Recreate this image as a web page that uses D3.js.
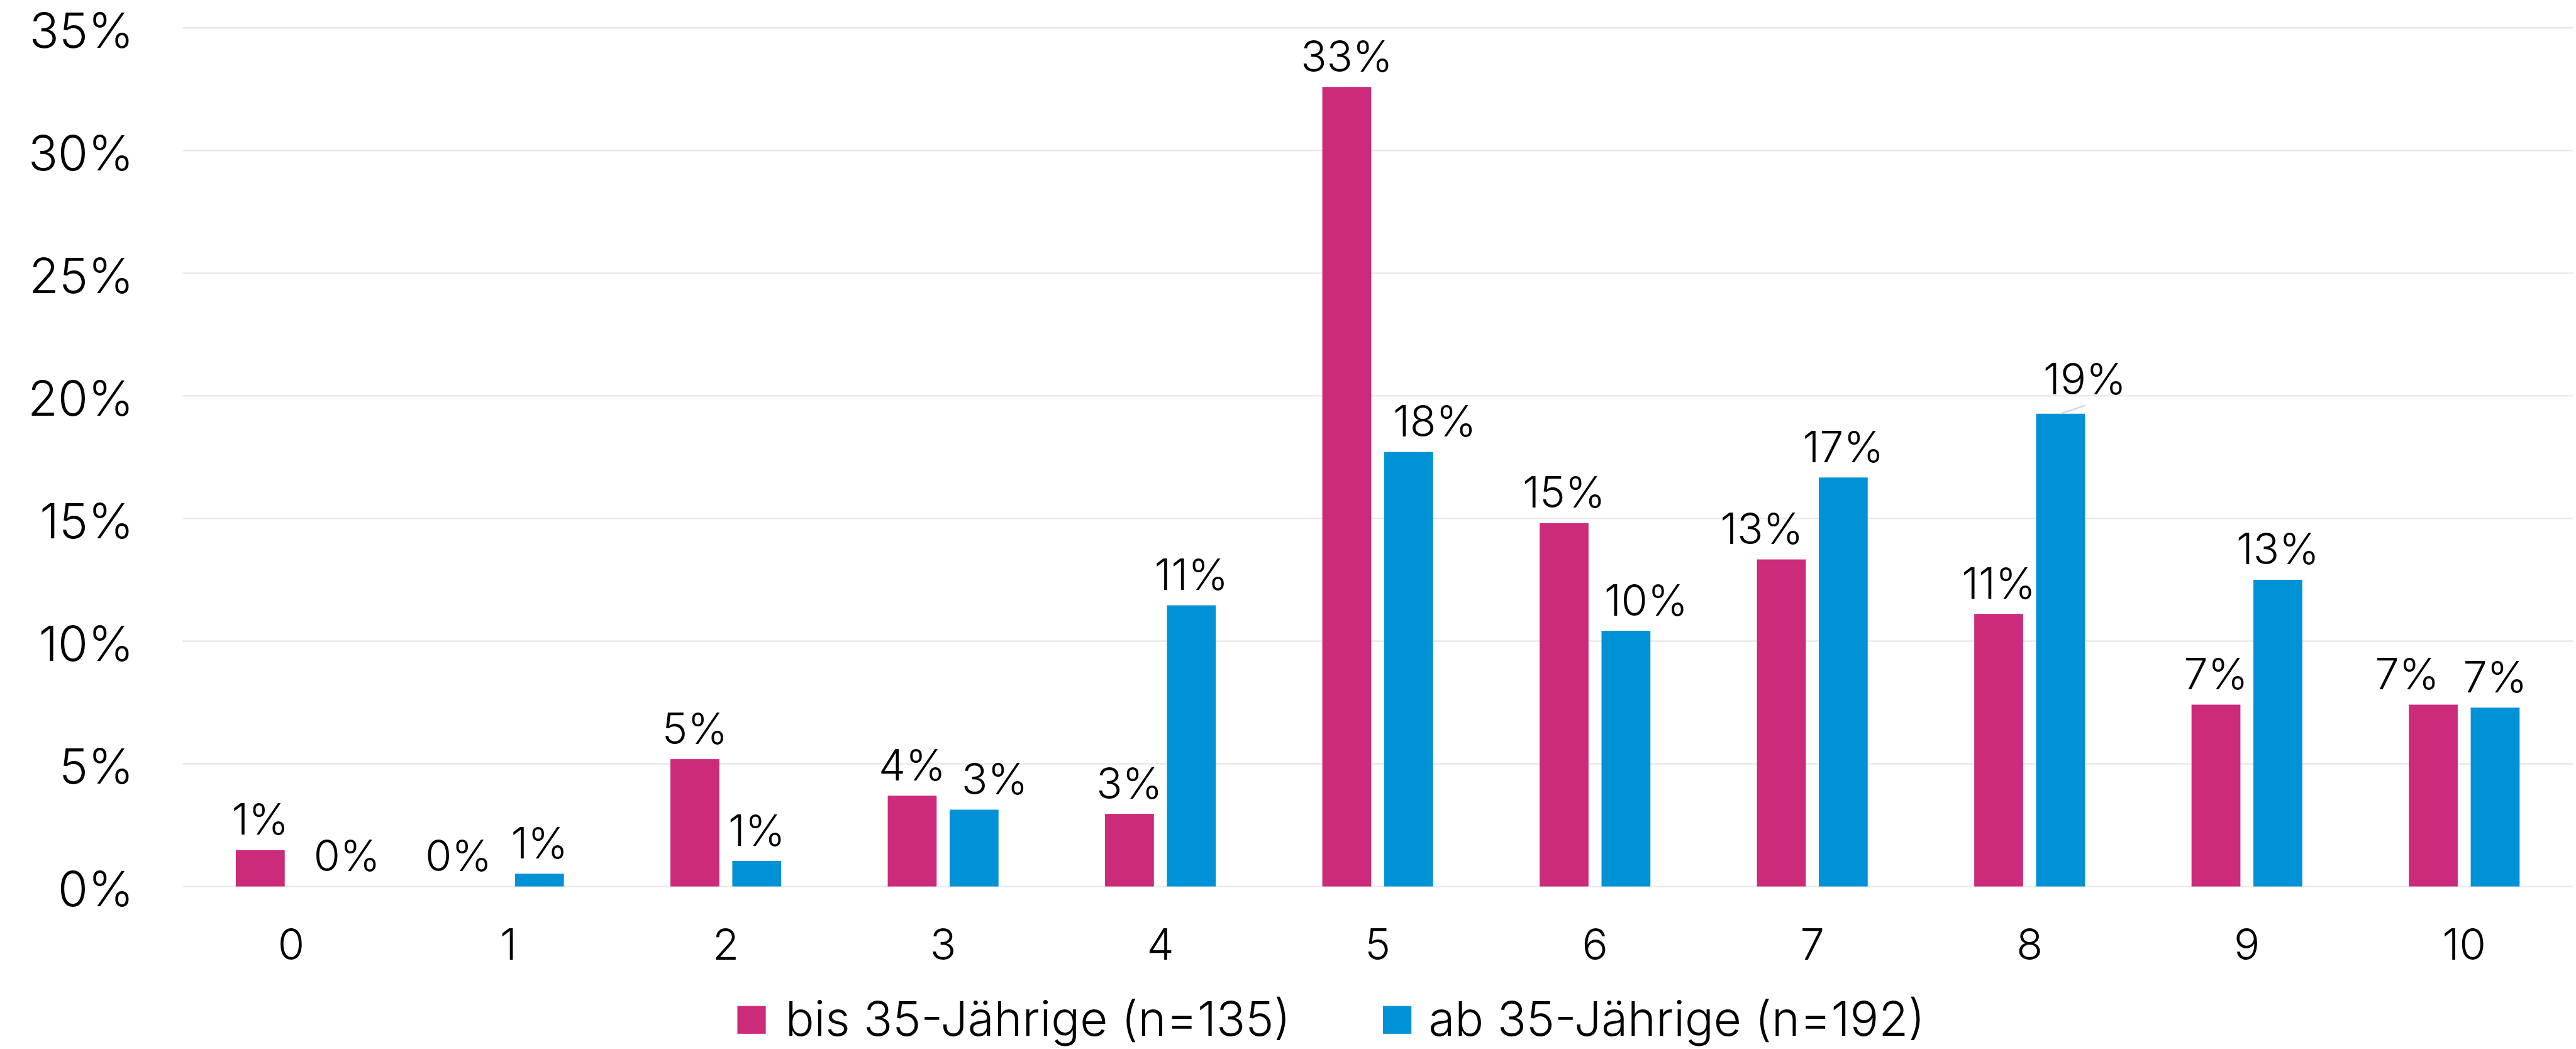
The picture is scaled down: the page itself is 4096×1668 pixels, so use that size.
<!DOCTYPE html>
<html>
<head>
<meta charset="utf-8">
<script src="https://cdn.jsdelivr.net/npm/d3@7"></script>
<style>
  html, body { margin: 0; padding: 0; background: #ffffff; }
  svg { display: block; }
  text { font-family: Inter, "Open Sans", sans-serif; font-weight: 300; fill: #000; }
</style>
</head>
<body>
<svg id="chart" width="4096" height="1668"></svg>
<script>
// ---- data (percent values) ----
const categories = ["0", "1", "2", "3", "4", "5", "6", "7", "8", "9", "10"];
const seriesNames = ["bis 35-Jährige (n=135)", "ab 35-Jährige (n=192)"];
const young = [1.48, 0, 5.19, 3.70, 2.96, 32.59, 14.81, 13.33, 11.11, 7.41, 7.41];
const old   = [0, 0.52, 1.04, 3.13, 11.46, 17.71, 10.42, 16.67, 19.27, 12.50, 7.29];
const youngLabels = ["1%", "0%", "5%", "4%", "3%", "33%", "15%", "13%", "11%", "7%", "7%"];
const oldLabels   = ["0%", "1%", "1%", "3%", "11%", "18%", "10%", "17%", "19%", "13%", "7%"];
const yTicks = [0, 5, 10, 15, 20, 25, 30, 35];
const colors = ["#CC2A7B", "#0092D6"];

// ---- layout config (reference pixel space, scaled to the window) ----
const REF_W = 4353;
const k = 4096 / REF_W;
// horizontal nudges of data labels that the original moved aside to avoid overlaps
const labelNudgeYoung = { "1": -32, "7": -33, "10": -44 };
const labelNudgeOld   = { "0": 42, "3": 35, "5": 44, "6": 34, "8": 41 };
const leaderLabel = { cat: "8", s: 1, dy: -33 };

const svg = d3.select("#chart");
const g = svg.append("g").attr("transform", `scale(${k})`);

const plotLeft = 308.5, plotRight = 4347.7;
const y0 = 1498, yTop = 47;

const x = d3.scaleBand().domain(categories).range([plotLeft, plotRight]).padding(0);
const x1 = d3.scaleBand().domain([0, 1]).range([90, x.bandwidth() - 90]).paddingInner(0.21).paddingOuter(0);
const y = d3.scaleLinear().domain([0, 35]).range([y0, yTop]);

// gridlines
g.append("g").selectAll("line").data(yTicks).join("line")
  .attr("x1", plotLeft).attr("x2", plotRight)
  .attr("y1", d => y(d)).attr("y2", d => y(d))
  .attr("stroke", "#e9e9e9").attr("stroke-width", 2.5);

// y axis labels
const yAxis = d3.axisLeft(y).tickValues(yTicks).tickFormat(d => d + "%").tickSize(0).tickPadding(0);
const ya = g.append("g").attr("transform", "translate(226,0)").call(yAxis);
ya.select(".domain").remove();
ya.selectAll("text")
  .attr("font-family", "Inter, 'Open Sans', sans-serif")
  .attr("font-size", 82.5).attr("font-weight", 300).attr("fill", "#000")
  .attr("dy", null).attr("y", 33);

// x axis labels
const xAxis = d3.axisBottom(x).tickSize(0).tickPadding(0);
const xa = g.append("g").attr("transform", `translate(0,${y0})`).call(xAxis);
xa.select(".domain").remove();
xa.selectAll("text")
  .attr("font-family", "Inter, 'Open Sans', sans-serif")
  .attr("font-size", 73).attr("font-weight", 300).attr("fill", "#000")
  .attr("dy", null).attr("y", 1622 - y0);

// bars
const rows = categories.map((c, i) => ({ c, vals: [young[i], old[i]], labs: [youngLabels[i], oldLabels[i]] }));
const groups = g.append("g").selectAll("g").data(rows).join("g")
  .attr("transform", d => `translate(${x(d.c)},0)`);

groups.selectAll("rect").data(d => d.vals.map((v, s) => ({ v, s }))).join("rect")
  .attr("x", d => x1(d.s))
  .attr("width", x1.bandwidth())
  .attr("y", d => y(d.v))
  .attr("height", d => y0 - y(d.v))
  .attr("fill", d => colors[d.s]);

// data labels
groups.each(function (d) {
  const grp = d3.select(this);
  d.vals.forEach((v, s) => {
    const cx = x1(s) + x1.bandwidth() / 2;
    const top = y(v);
    const nudge = (s === 0 ? labelNudgeYoung : labelNudgeOld)[d.c] || 0;
    let lx = cx + nudge, ly = top - 26;
    if (d.c === leaderLabel.cat && s === leaderLabel.s) {
      ly = top + leaderLabel.dy;
      grp.append("line")
        .attr("x1", cx).attr("y1", top)
        .attr("x2", cx + 42).attr("y2", top - 14)
        .attr("stroke", "#d4d4d4").attr("stroke-width", 2.5);
    }
    grp.append("text")
      .attr("x", lx).attr("y", ly)
      .attr("text-anchor", "middle")
      .attr("font-size", 72.5)
      .text(d.labs[s]);
  });
});

// legend
const legend = g.append("g");
const legendItems = [
  { name: seriesNames[0], color: colors[0], sx: 1246, tx: 1327 },
  { name: seriesNames[1], color: colors[1], sx: 2337, tx: 2414 }
];
legendItems.forEach(it => {
  legend.append("rect").attr("x", it.sx).attr("y", 1700).attr("width", 48).attr("height", 47).attr("fill", it.color);
  legend.append("text").attr("x", it.tx).attr("y", 1750).attr("font-size", 81).text(it.name);
});
</script>
</body>
</html>
